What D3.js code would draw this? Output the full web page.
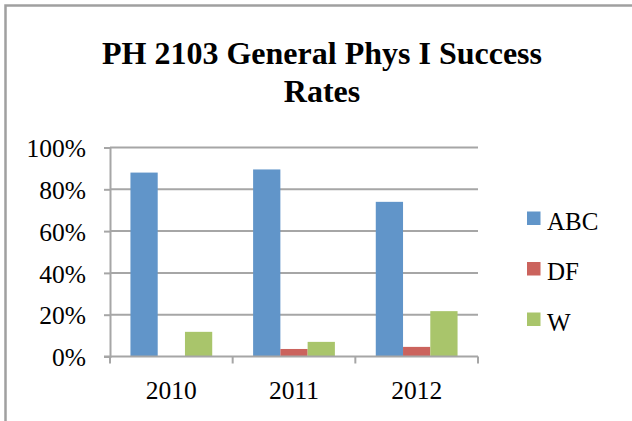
<!DOCTYPE html>
<html>
<head>
<meta charset="utf-8">
<script src="https://cdn.jsdelivr.net/npm/d3@7"></script>
<style>
  html, body { margin: 0; padding: 0; background: #fff; }
  svg { display: block; }
  text { font-family: "Liberation Serif", "Times New Roman", serif; fill: #000; }
</style>
</head>
<body>
<svg id="chart" width="632" height="421"></svg>
<script>
// Course outcome shares per year
const years = ["2010", "2011", "2012"];
const seriesNames = ["ABC", "DF", "W"];
const abcValues = [0.88, 0.895, 0.74];
const dfValues = [0.0, 0.036, 0.046];
const wValues = [0.118, 0.07, 0.217];
const yTicks = [0, 0.2, 0.4, 0.6, 0.8, 1.0];
const titleLines = ["PH 2103 General Phys I Success", "Rates"];
const seriesColors = ["#6195c9", "#cb635d", "#a9c56b"];

const seriesValues = [abcValues, dfValues, wValues];

const svg = d3.select("#chart");
const gridColor = "#a6a6a6";

// Chart frame (open on the right and bottom)
svg.append("rect")
  .attr("x", 5.5).attr("y", 5.5)
  .attr("width", 700).attr("height", 500)
  .attr("fill", "none")
  .attr("stroke", "#a0a0a0")
  .attr("stroke-width", 2.5);

// Title
const title = svg.append("text")
  .attr("text-anchor", "middle")
  .attr("font-weight", "bold")
  .attr("font-size", 32);
titleLines.forEach((line, i) => {
  title.append("tspan")
    .attr("x", 322)
    .attr("y", 64 + i * 37.5)
    .text(line);
});

const plot = { left: 110, right: 478, top: 147.5, bottom: 356.5 };

const x = d3.scaleBand()
  .domain(years)
  .range([plot.left, plot.right])
  .paddingInner(0)
  .paddingOuter(0);

const y = d3.scaleLinear()
  .domain([0, 1])
  .range([plot.bottom, plot.top]);

// Horizontal gridlines
svg.append("g")
  .selectAll("line")
  .data(yTicks.filter(d => d > 0))
  .join("line")
  .attr("x1", plot.left).attr("x2", plot.right)
  .attr("y1", d => y(d)).attr("y2", d => y(d))
  .attr("stroke", gridColor)
  .attr("stroke-width", 2);

// Y axis
const yAxis = svg.append("g")
  .attr("transform", `translate(${plot.left},0)`)
  .call(d3.axisLeft(y).tickValues(yTicks).tickFormat(d3.format(".0%")).tickSize(6).tickPadding(18));
yAxis.select(".domain").attr("stroke", gridColor).attr("stroke-width", 2);
yAxis.selectAll(".tick line").attr("stroke", gridColor).attr("stroke-width", 2);
yAxis.selectAll(".tick text")
  .attr("font-family", "Liberation Serif, Times New Roman, serif")
  .attr("font-size", 25.5)
  .attr("fill", "#000")
  .attr("dy", "0.36em");

// Bars
const groupInner = d3.scaleBand()
  .domain(seriesNames)
  .range([0, x.bandwidth()])
  .paddingOuter(0.75)
  .paddingInner(0);

const barData = [];
years.forEach((yr, i) => {
  seriesNames.forEach((s, j) => {
    barData.push({ year: yr, series: s, value: seriesValues[j][i], color: seriesColors[j] });
  });
});

svg.append("g")
  .selectAll("rect")
  .data(barData)
  .join("rect")
  .attr("x", d => x(d.year) + groupInner(d.series))
  .attr("width", groupInner.bandwidth())
  .attr("y", d => y(d.value))
  .attr("height", d => y(0) - y(d.value))
  .attr("fill", d => d.color);

// X axis with boundary ticks
const xAxisG = svg.append("g");
xAxisG.append("line")
  .attr("x1", plot.left - 6).attr("x2", plot.right)
  .attr("y1", y(0)).attr("y2", y(0))
  .attr("stroke", gridColor).attr("stroke-width", 2);
const boundaries = years.map(yr => x(yr)).concat([x(years[years.length - 1]) + x.bandwidth()]);
xAxisG.selectAll("line.bt")
  .data(boundaries)
  .join("line")
  .attr("class", "bt")
  .attr("x1", d => d).attr("x2", d => d)
  .attr("y1", y(0)).attr("y2", y(0) + 7)
  .attr("stroke", gridColor).attr("stroke-width", 2);
xAxisG.selectAll("text")
  .data(years)
  .join("text")
  .attr("x", d => x(d) + x.bandwidth() / 2)
  .attr("y", 399)
  .attr("text-anchor", "middle")
  .attr("font-size", 25.5)
  .text(d => d);

// Legend
const legend = svg.append("g");
seriesNames.forEach((s, i) => {
  const ly = 211.5 + i * 50.5;
  legend.append("rect")
    .attr("x", 527).attr("y", ly)
    .attr("width", 13.5).attr("height", 13.5)
    .attr("fill", seriesColors[i]);
  legend.append("text")
    .attr("x", 547).attr("y", ly + 18)
    .attr("font-size", 25)
    .text(s);
});
</script>
</body>
</html>
